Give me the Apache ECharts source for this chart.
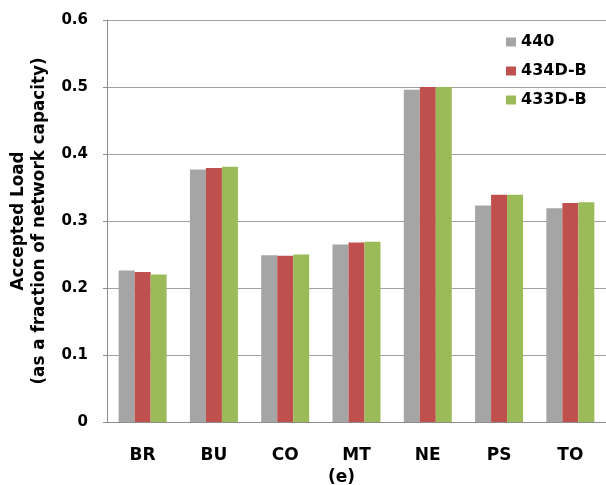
<!DOCTYPE html>
<html>
<head>
<meta charset="utf-8">
<script src="https://cdn.jsdelivr.net/npm/echarts@6/dist/echarts.min.js"></script>
<style>
    html, body { margin: 0; padding: 0; background: #fff; }
    #chart { width: 606px; height: 485px; }
</style>
</head>
<body>
<div id="chart"></div>
<script>
const categories = ['BR', 'BU', 'CO', 'MT', 'NE', 'PS', 'TO'];
const seriesNames = ['440', '434D-B', '433D-B'];
const load440 = [0.226, 0.377, 0.249, 0.265, 0.496, 0.323, 0.319];
const load434 = [0.224, 0.379, 0.248, 0.268, 0.500, 0.339, 0.327];
const load433 = [0.220, 0.381, 0.250, 0.269, 0.500, 0.339, 0.328];
const colors = ['#a5a5a5', '#c0504d', '#9bbb59'];

const font = 'DejaVu Sans';
const chart = echarts.init(document.getElementById('chart'));

const makeBar = (name, data, color) => ({
    name: name,
    type: 'bar',
    barWidth: 16,
    barGap: '0%',
    itemStyle: { color: color },
    data: data,
});

chart.setOption({
    animation: false,
    grid: { left: 107, right: 0, top: 20, bottom: 63, outerBoundsMode: 'none' },
    legend: {
        orient: 'vertical',
        left: 501,
        top: 29,
        itemWidth: 10,
        itemHeight: 9,
        itemGap: 13,
        icon: 'rect',
        textStyle: { fontFamily: font, fontWeight: 'bold', fontSize: 16, color: '#000' },
        data: seriesNames,
    },
    xAxis: {
        type: 'category',
        data: categories,
        name: '(e)',
        nameLocation: 'middle',
        nameGap: 40,
        nameTextStyle: { fontFamily: font, fontWeight: 'bold', fontSize: 17, color: '#000', padding: [0, 30, 0, 0] },
        axisTick: { show: false },
        axisLine: { lineStyle: { color: '#8c8c8c', width: 1 } },
        axisLabel: { margin: 25, fontFamily: font, fontWeight: 'bold', fontSize: 17, color: '#000' },
    },
    yAxis: {
        type: 'value',
        min: 0,
        max: 0.6,
        interval: 0.1,
        name: 'Accepted Load\n(as a fraction of network capacity)',
        nameLocation: 'middle',
        nameGap: 57,
        nameTextStyle: { fontFamily: font, fontWeight: 'bold', fontSize: 16.8, lineHeight: 21, color: '#000' },
        axisLine: { show: true, lineStyle: { color: '#8c8c8c', width: 1 } },
        axisTick: { show: true, length: 4, lineStyle: { color: '#8c8c8c' } },
        splitLine: { lineStyle: { color: '#a0a0a0', width: 1 } },
        axisLabel: {
            margin: 19,
            fontFamily: font,
            fontWeight: 'bold',
            fontSize: 15,
            color: '#000',
            formatter: v => (v === 0 ? '0' : v.toFixed(1)),
        },
    },
    series: [
        makeBar(seriesNames[0], load440, colors[0]),
        makeBar(seriesNames[1], load434, colors[1]),
        makeBar(seriesNames[2], load433, colors[2]),
    ],
});
</script>
</body>
</html>
